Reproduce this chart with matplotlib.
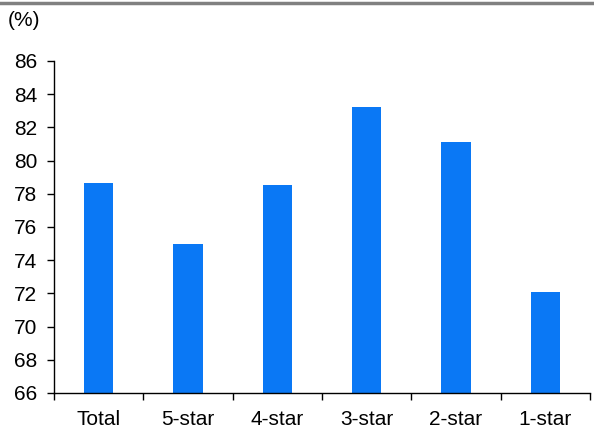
import matplotlib.pyplot as plt
import numpy as np

categories = ["Total", "5-star", "4-star", "3-star", "2-star", "1-star"]
values = [78.65, 75.0, 78.55, 83.25, 81.15, 72.1]

plt.rcParams['font.family'] = ['Liberation Sans', 'DejaVu Sans']
plt.rcParams['font.size'] = 15

fig = plt.figure(figsize=(5.94, 4.29), dpi=100)
ax = fig.add_axes([54 / 594, 36 / 429, 536 / 594, 332 / 429])

x = np.arange(len(categories))
ax.bar(x, values, width=0.33, color='#0A78F5')

ax.set_ylim(66, 86)
ax.set_yticks(np.arange(66, 87, 2))
ax.set_xlim(-0.5, len(categories) - 0.5)
ax.set_xticks(x)
ax.set_xticklabels(categories)
ax.set_xticks(np.arange(-0.5, len(categories), 1), minor=True)
ax.tick_params(axis='x', which='major', length=0, pad=12)
ax.tick_params(axis='x', which='minor', length=5, width=1, direction='out')
ax.tick_params(axis='y', length=5, width=1, direction='out', pad=7)

for side in ['top', 'right']:
    ax.spines[side].set_visible(False)
for side in ['left', 'bottom']:
    ax.spines[side].set_linewidth(1)

fig.text(8 / 594, 1 - 21 / 429, "(%)", ha='left', va='center', fontsize=15)
fig.add_artist(plt.Line2D([0, 1], [1 - 2.5 / 429, 1 - 2.5 / 429], color='#808080', linewidth=2.5,
                          transform=fig.transFigure))

fig.savefig("out.png", dpi=100)
